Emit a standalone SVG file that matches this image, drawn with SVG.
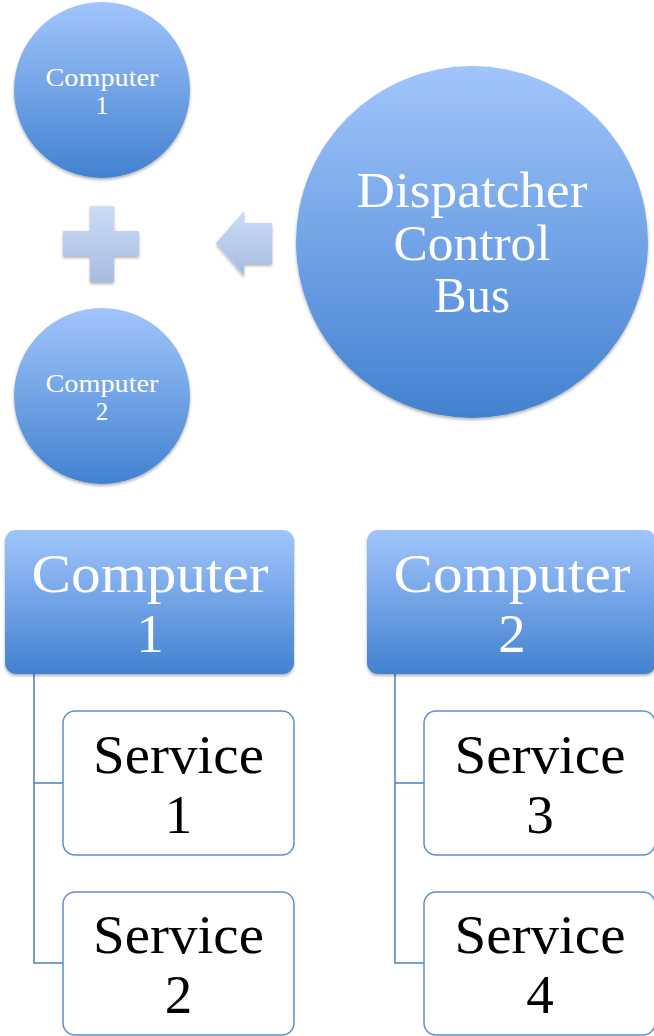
<svg xmlns="http://www.w3.org/2000/svg" width="654" height="1036" viewBox="0 0 654 1036">
<defs>
<linearGradient id="blue" x1="0" y1="0" x2="0" y2="1">
<stop offset="0" stop-color="#a1c5fb"/>
<stop offset="0.5" stop-color="#72a3e6"/>
<stop offset="1" stop-color="#4282d0"/>
</linearGradient>
<linearGradient id="pale" x1="0" y1="0" x2="0" y2="1">
<stop offset="0" stop-color="#cbdcf8"/>
<stop offset="1" stop-color="#a7bce1"/>
</linearGradient>
<filter id="sh" x="-20%" y="-20%" width="140%" height="140%">
<feDropShadow dx="0" dy="2" stdDeviation="1.8" flood-color="#000" flood-opacity="0.3"/>
</filter>
<style>
.shape{fill:url(#blue);filter:url(#sh)}
.pale{fill:url(#pale);filter:url(#sh)}
.wt{fill:#fff;font-family:"Liberation Serif",serif;text-anchor:middle}
.bk{fill:#000;font-family:"Liberation Serif",serif;text-anchor:middle}
.svc{fill:#fff;stroke:#5b8fd2;stroke-width:1.5}
.conn{fill:none;stroke:#4f7fbf;stroke-width:1.5}
</style>
</defs>

<g id="circle-computer1">
<circle class="shape" cx="102" cy="90" r="88"/>
<text class="wt" font-size="25" x="102" y="86" textLength="113" lengthAdjust="spacingAndGlyphs">Computer</text>
<text class="wt" font-size="25" x="102" y="114">1</text>
</g>

<g id="plus">
<path class="pale" d="M90 206H114V231H139V256H114V282H90V256H63V231H90Z"/>
</g>

<g id="circle-computer2">
<circle class="shape" cx="102" cy="396" r="88"/>
<text class="wt" font-size="25" x="102" y="392" textLength="113" lengthAdjust="spacingAndGlyphs">Computer</text>
<text class="wt" font-size="25" x="102" y="420">2</text>
</g>

<g id="arrow">
<path class="pale" d="M216 243L244 211V223H272V264H244V276Z"/>
</g>

<g id="dispatcher">
<circle class="shape" cx="472" cy="242" r="176"/>
<text class="wt" font-size="50" x="472" y="207" textLength="231" lengthAdjust="spacingAndGlyphs">Dispatcher</text>
<text class="wt" font-size="50" x="472" y="260" textLength="157" lengthAdjust="spacingAndGlyphs">Control</text>
<text class="wt" font-size="50" x="472" y="312" textLength="76" lengthAdjust="spacingAndGlyphs">Bus</text>
</g>

<g id="connectors">
<path class="conn" d="M34 674V963H63M34 783H63"/>
<path class="conn" d="M395 674V963H424M395 783H424"/>
</g>

<g id="box-computer1">
<rect class="shape" x="5" y="530" width="289" height="144" rx="11"/>
<text class="wt" font-size="55" x="150" y="592" textLength="237" lengthAdjust="spacingAndGlyphs">Computer</text>
<text class="wt" font-size="55" x="150" y="652">1</text>
</g>

<g id="box-computer2">
<rect class="shape" x="367" y="530" width="289" height="144" rx="11"/>
<text class="wt" font-size="55" x="512" y="592" textLength="237" lengthAdjust="spacingAndGlyphs">Computer</text>
<text class="wt" font-size="55" x="512" y="652">2</text>
</g>

<g id="service1">
<rect class="svc" x="63" y="711" width="231" height="144" rx="12"/>
<text class="bk" font-size="55" x="178.5" y="773" textLength="171" lengthAdjust="spacingAndGlyphs">Service</text>
<text class="bk" font-size="55" x="178.5" y="833">1</text>
</g>

<g id="service2">
<rect class="svc" x="63" y="892" width="231" height="143" rx="12"/>
<text class="bk" font-size="55" x="178.5" y="953" textLength="171" lengthAdjust="spacingAndGlyphs">Service</text>
<text class="bk" font-size="55" x="178.5" y="1013">2</text>
</g>

<g id="service3">
<rect class="svc" x="424" y="711" width="231" height="144" rx="12"/>
<text class="bk" font-size="55" x="540" y="773" textLength="171" lengthAdjust="spacingAndGlyphs">Service</text>
<text class="bk" font-size="55" x="540" y="833">3</text>
</g>

<g id="service4">
<rect class="svc" x="424" y="892" width="231" height="143" rx="12"/>
<text class="bk" font-size="55" x="540" y="953" textLength="171" lengthAdjust="spacingAndGlyphs">Service</text>
<text class="bk" font-size="55" x="540" y="1013">4</text>
</g>
</svg>
